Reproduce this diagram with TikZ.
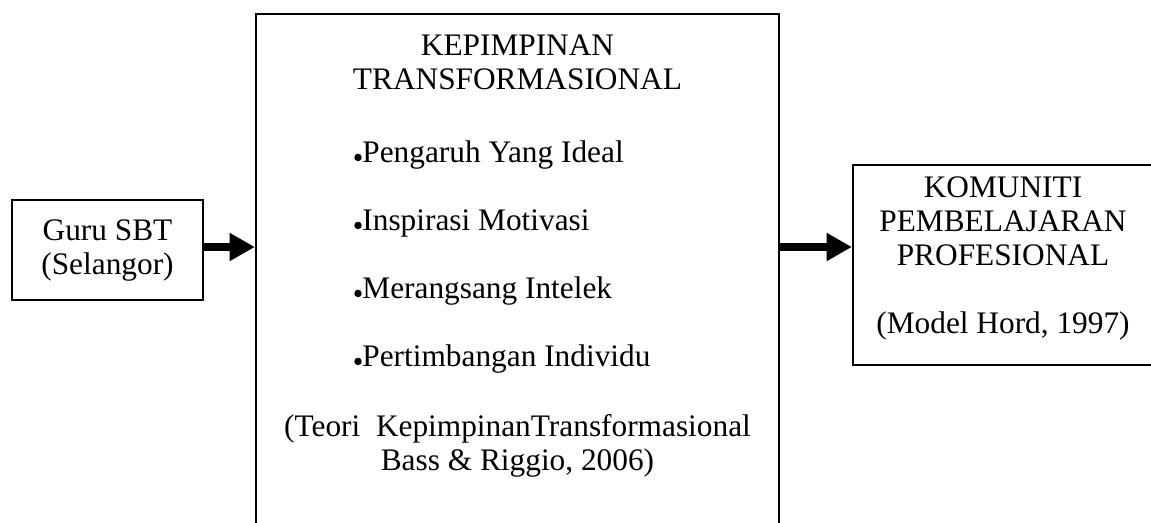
\documentclass[tikz,border=0pt]{standalone}
\usepackage{fontspec}
\setmainfont{Liberation Serif}
\usetikzlibrary{arrows.meta}
\newcommand{\bdot}{\tikz[baseline=0pt,x=1pt,y=1pt]\fill (0pt,3.8pt) circle (2.8pt);\hspace{0.5pt}}
\begin{document}
\begin{tikzpicture}[x=0.75pt,y=-0.75pt,
  box/.style={draw=black,line width=1.7pt,inner sep=0pt},
  txt/.style={font=\fontsize{23.5}{25.5}\selectfont,inner sep=0pt,align=center},
  bul/.style={font=\fontsize{23.5}{51}\selectfont,inner sep=0pt,align=left},
  bigarrow/.style={line width=6pt,-{Triangle[length=19pt,width=20pt]}}]
\useasboundingbox (0,0) rectangle (1151,522);
% boxes
\node[box,minimum width=143.25pt,minimum height=75pt] (guru) at (107.5,250) {};
\node[box,minimum width=392.25pt,minimum height=439.5pt] (kep) at (517.5,307) {};
\node[box,minimum width=234pt,minimum height=150pt] (kom) at (1009,265) {};
% texts
\node[txt] (gurutxt) at (guru.center) {Guru SBT\\(Selangor)};
\node[txt] (keptitle) at (517.5,62) {KEPIMPINAN\\TRANSFORMASIONAL};
\node[bul,anchor=west] (keplist) at (354,257) {\bdot Pengaruh Yang Ideal\\
\bdot Inspirasi Motivasi\\
\bdot Merangsang Intelek\\
\bdot Pertimbangan Individu};
\node[txt] (kepref) at (517.5,446) {(Teori\ \ KepimpinanTransformasional\\Bass \& Riggio, 2006)};
\node[txt] (komtxt) at (1003,258) {KOMUNITI\\PEMBELAJARAN\\PROFESIONAL\\[25.5pt](Model Hord, 1997)};
% arrows
\draw[bigarrow] (guru.east |- 0,247) -- (kep.west |- 0,247);
\draw[bigarrow] (kep.east |- 0,247) -- (kom.west |- 0,247);
\end{tikzpicture}
\end{document}
